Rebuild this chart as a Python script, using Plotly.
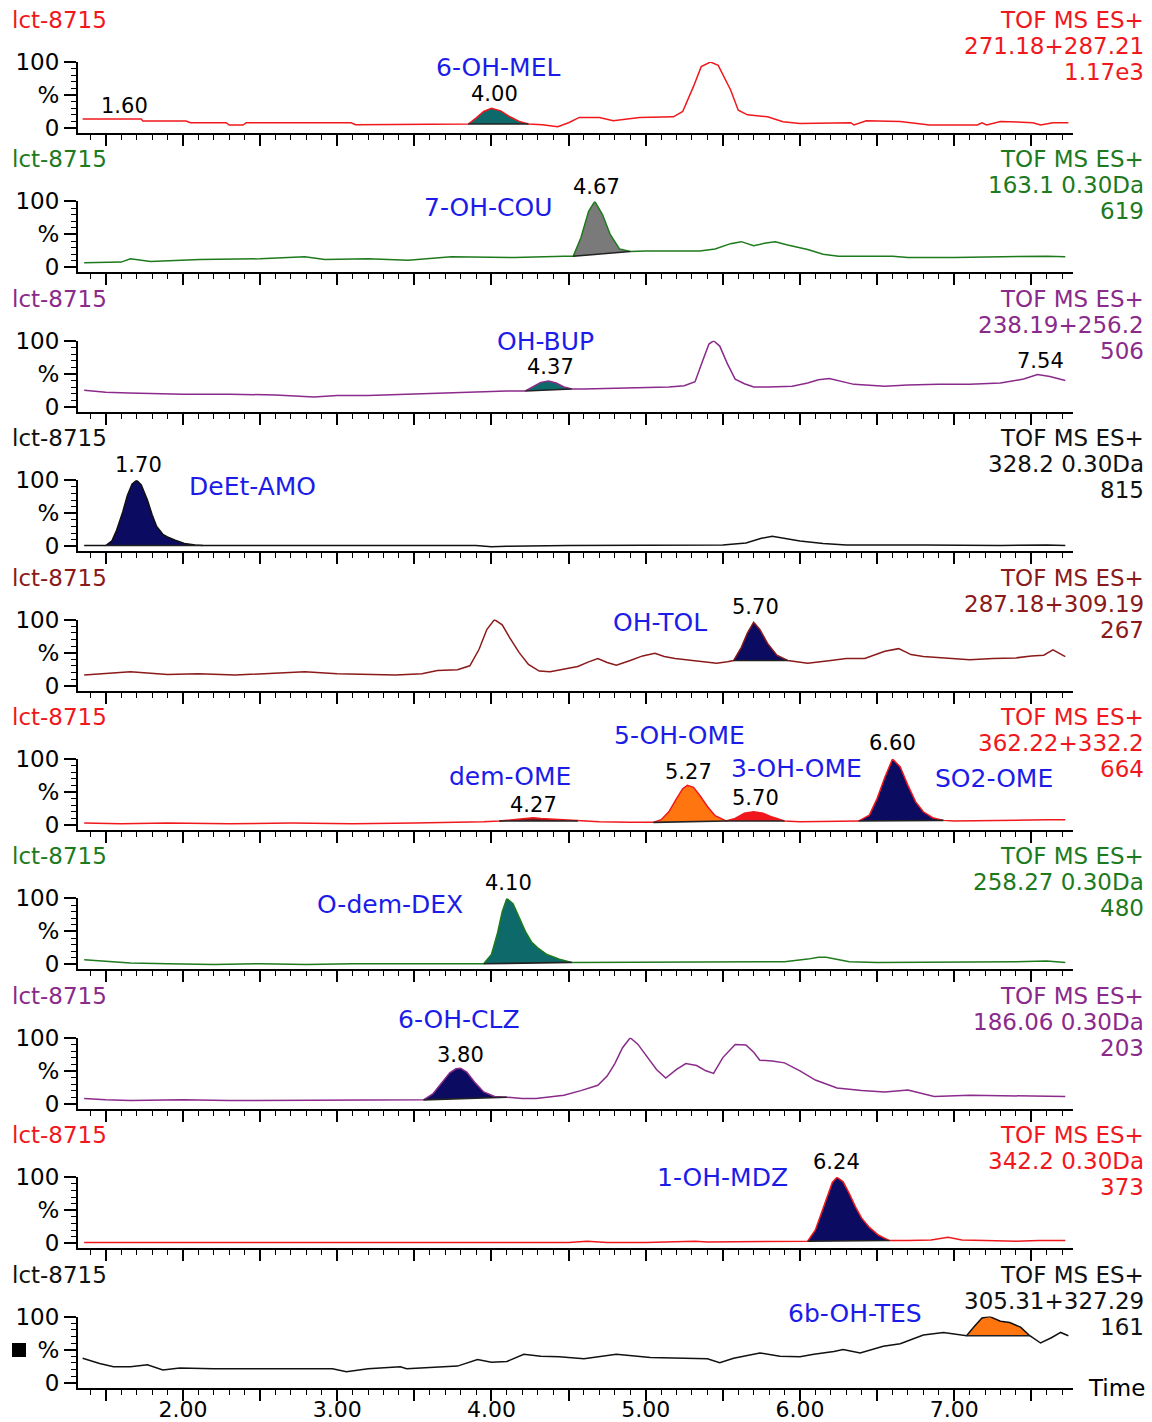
import plotly.graph_objects as go

# ---------------------------------------------------------------------------
# Extracted-ion chromatograms, sample lct-8715 (time in min, intensity in %)
# ---------------------------------------------------------------------------
sample = "lct-8715"
mode = "TOF MS ES+"

mass_windows = ["271.18+287.21", "163.1 0.30Da", "238.19+256.2", "328.2 0.30Da",
                "287.18+309.19", "362.22+332.2", "258.27 0.30Da", "186.06 0.30Da",
                "342.2 0.30Da", "305.31+327.29"]
base_peak_counts = ["1.17e3", "619", "506", "815", "267", "664", "480", "203", "373", "161"]

# 1: 6-OH-MEL
t_mel = [1.35, 1.73, 1.74, 2.02, 2.05, 2.28, 2.30, 2.39, 2.41, 3.09, 3.12, 3.50, 3.85, 3.90, 3.95,
         4.00, 4.06, 4.12, 4.18, 4.24, 4.33, 4.43, 4.50, 4.57, 4.70, 4.79, 4.96, 5.18, 5.24, 5.31,
         5.36, 5.42, 5.47, 5.55, 5.60, 5.66, 5.79, 5.89, 6.00, 6.33, 6.35, 6.43, 6.65, 6.84, 7.15,
         7.18, 7.21, 7.30, 7.51, 7.56, 7.64, 7.74]
i_mel = [13.6, 13.6, 10.6, 10.6, 8, 8, 4.5, 4.5, 8, 8, 5, 5.5, 6, 15, 25,
         30, 26, 17, 10, 6, 5, 2, 8, 16, 16, 11, 16, 17, 25, 63,
         93, 100, 95, 58, 27, 20, 17, 9.5, 7, 8, 4.5, 11, 10, 4.5, 4.5,
         8, 4.5, 10, 8, 4.5, 8, 8]

# 2: 7-OH-COU
t_cou = [1.36, 1.60, 1.66, 1.79, 2.11, 2.50, 2.79, 2.92, 3.20, 3.46, 3.74, 4.15, 4.47, 4.53, 4.58,
         4.63, 4.67, 4.72, 4.77, 4.83, 4.90, 5.00, 5.20, 5.35, 5.45, 5.55, 5.62, 5.70, 5.78, 5.84,
         5.92, 6.05, 6.15, 6.25, 6.60, 6.70, 7.00, 7.30, 7.50, 7.60, 7.72]
i_cou = [7, 8, 13, 9, 12, 13, 16, 12, 13, 11, 16, 15, 17, 17, 45,
         85, 100, 80, 50, 28, 24, 25, 25, 25, 28, 36, 39, 33, 37, 39,
         34, 27, 20, 17, 17, 15, 15, 16, 16, 17, 16]

# 3: OH-BUP
t_bup = [1.36, 1.50, 1.65, 2.00, 2.30, 2.60, 2.85, 3.00, 3.20, 3.45, 3.65, 3.90, 4.10, 4.22, 4.27,
         4.32, 4.37, 4.42, 4.47, 4.52, 4.60, 4.80, 5.00, 5.15, 5.25, 5.32, 5.37, 5.41, 5.44, 5.48,
         5.53, 5.58, 5.64, 5.70, 5.80, 5.95, 6.05, 6.12, 6.19, 6.26, 6.35, 6.55, 6.70, 6.90, 7.10,
         7.30, 7.45, 7.54, 7.62, 7.72]
i_bup = [25, 22, 21, 19, 19, 18, 15, 17, 17, 19, 20, 22, 24, 24, 30,
         37, 39, 36, 30, 27, 27, 28, 30, 30, 32, 38, 70, 95, 100, 92,
         65, 42, 35, 30, 30, 31, 36, 41, 43, 39, 34, 31, 33, 34, 34,
         36, 42, 49, 46, 40]

# 4: DeEt-AMO
t_amo = [1.36, 1.45, 1.50, 1.54, 1.57, 1.61, 1.64, 1.67, 1.70, 1.73, 1.77, 1.80, 1.83, 1.87, 1.90,
         1.95, 2.01, 2.08, 2.13, 2.50, 3.00, 3.50, 3.90, 4.00, 4.10, 4.50, 5.00, 5.50, 5.65, 5.75,
         5.82, 5.90, 6.00, 6.15, 6.30, 6.80, 7.30, 7.60, 7.72]
i_amo = [1, 1, 1, 8, 24, 52, 77, 94, 100, 93, 70, 48, 30, 18, 14,
         9, 4, 2, 1, 1, 1, 1, 1, -1, 0, 1, 1, 2, 5, 12,
         15, 12, 8, 4, 2, 2, 1, 2, 1]

# 5: OH-TOL
t_tol = [1.36, 1.66, 1.90, 2.10, 2.34, 2.60, 2.79, 3.00, 3.20, 3.38, 3.55, 3.65, 3.78, 3.86, 3.92,
         3.97, 4.02, 4.07, 4.12, 4.18, 4.24, 4.31, 4.38, 4.48, 4.56, 4.63, 4.69, 4.75, 4.81, 4.90,
         4.98, 5.06, 5.12, 5.19, 5.30, 5.40, 5.46, 5.53, 5.57, 5.62, 5.66, 5.70, 5.74, 5.79, 5.85,
         5.92, 5.96, 6.05, 6.20, 6.30, 6.42, 6.55, 6.64, 6.72, 6.80, 6.95, 7.10, 7.25, 7.40, 7.50,
         7.58, 7.64, 7.72]
i_tol = [16, 21, 17, 18, 16, 19, 21, 18, 17, 16, 18, 23, 24, 30, 55,
         85, 100, 92, 72, 50, 32, 22, 21, 25, 29, 36, 41, 35, 31, 38,
         45, 49, 44, 41, 38, 36, 34, 36, 38, 58, 80, 96, 85, 64, 46,
         38, 37, 34, 38, 41, 41, 52, 56, 47, 44, 42, 39, 41, 42, 45,
         46, 54, 44]

# 6: dem-OME / 5-OH-OME / 3-OH-OME / SO2-OME
t_ome = [1.36, 1.60, 1.90, 2.30, 2.70, 3.10, 3.50, 3.80, 3.95, 4.05, 4.15, 4.22, 4.27, 4.32, 4.40,
         4.48, 4.56, 4.70, 4.90, 5.05, 5.10, 5.15, 5.20, 5.24, 5.27, 5.31, 5.35, 5.40, 5.45, 5.52,
         5.58, 5.64, 5.70, 5.76, 5.82, 5.90, 6.00, 6.20, 6.38, 6.45, 6.50, 6.55, 6.60, 6.65, 6.70,
         6.75, 6.80, 6.86, 6.93, 7.00, 7.20, 7.40, 7.60, 7.72]
i_ome = [3, 2, 3, 2, 3, 2, 3, 4, 5, 6, 8, 10, 11, 10, 9,
         7, 6, 5, 4, 4, 8, 20, 40, 55, 60, 57, 45, 28, 14, 6,
         10, 18, 20, 18, 12, 6, 5, 5, 6, 15, 40, 72, 100, 88, 60,
         35, 20, 11, 7, 6, 7, 7, 8, 8]

# 7: O-dem-DEX
t_dex = [1.36, 1.50, 1.66, 1.90, 2.20, 2.50, 2.80, 3.10, 3.40, 3.70, 3.95, 4.00, 4.04, 4.07, 4.10,
         4.14, 4.18, 4.22, 4.26, 4.30, 4.36, 4.44, 4.52, 4.80, 5.20, 5.60, 5.90, 6.05, 6.12, 6.17,
         6.24, 6.32, 6.50, 6.80, 7.10, 7.40, 7.60, 7.72]
i_dex = [7, 5, 2, 1, 0, 1, 0, 1, 1, 1, 1, 15, 48, 80, 100,
         92, 72, 50, 34, 25, 15, 8, 3, 3, 3, 3, 4, 8, 11, 11,
         8, 4, 3, 3, 4, 4, 5, 3]

# 8: 6-OH-CLZ
t_clz = [1.36, 1.50, 1.66, 2.00, 2.30, 2.56, 2.90, 3.20, 3.47, 3.56, 3.62, 3.68, 3.73, 3.77, 3.80,
         3.84, 3.89, 3.95, 4.02, 4.10, 4.20, 4.29, 4.38, 4.47, 4.58, 4.69, 4.75, 4.80, 4.85, 4.90,
         4.95, 5.01, 5.07, 5.13, 5.20, 5.26, 5.33, 5.39, 5.44, 5.50, 5.58, 5.65, 5.70, 5.74, 5.82,
         5.90, 6.00, 6.10, 6.24, 6.40, 6.55, 6.70, 6.87, 7.10, 7.30, 7.50, 7.65, 7.72]
i_clz = [8, 6, 5, 6, 5, 5, 6, 5, 6, 6, 15, 33, 47, 53, 54,
         48, 33, 18, 11, 10, 8, 8, 10, 13, 20, 28, 42, 61, 85, 100,
         90, 71, 52, 39, 52, 61, 58, 50, 46, 70, 90, 89, 78, 66, 65,
         62, 50, 36, 24, 20, 18, 21, 11, 13, 12, 12, 11, 11]

# 9: 1-OH-MDZ
t_mdz = [1.36, 2.00, 2.50, 3.00, 3.50, 4.00, 4.50, 4.62, 4.75, 5.00, 5.25, 5.32, 5.40, 5.70, 5.90,
         6.00, 6.05, 6.10, 6.14, 6.18, 6.21, 6.24, 6.28, 6.32, 6.36, 6.40, 6.45, 6.51, 6.58, 6.70,
         6.85, 6.96, 7.05, 7.20, 7.40, 7.55, 7.72]
i_mdz = [1, 1, 1, 1, 1, 1, 1, 3, 1, 1, 2, 3, 2, 2, 2,
         3, 3, 20, 45, 72, 92, 100, 93, 75, 55, 38, 24, 12, 4, 4,
         5, 9, 5, 4, 3, 4, 4]

# 10: 6b-OH-TES
t_tes = [1.35, 1.46, 1.55, 1.66, 1.77, 1.87, 1.98, 2.20, 2.50, 2.80, 2.97, 3.06, 3.20, 3.41, 3.45,
         3.60, 3.78, 3.91, 4.00, 4.10, 4.21, 4.32, 4.44, 4.60, 4.81, 5.03, 5.24, 5.40, 5.48, 5.57,
         5.74, 5.87, 6.00, 6.09, 6.22, 6.28, 6.39, 6.54, 6.65, 6.80, 6.93, 7.02, 7.08, 7.13, 7.18,
         7.23, 7.30, 7.36, 7.43, 7.49, 7.56, 7.63, 7.69, 7.74]
i_tes = [37, 29, 24, 24, 27, 19, 22, 21, 21, 21, 21, 16.5, 21, 24, 21,
         23, 25, 35, 31, 32, 43, 40, 39, 36, 43, 38, 37, 36, 30, 37,
         45, 40, 39, 43, 47, 50, 45, 55, 59, 72, 76, 73, 71, 85, 98,
         100, 93, 91, 84, 71, 60, 68, 76, 71]

# integrated peaks: (start, end) of the integration window per trace
windows_mel = [(3.85, 4.24)]
windows_cou = [(4.53, 4.90)]
windows_bup = [(4.22, 4.52)]
windows_amo = [(1.50, 2.13)]
windows_tol = [(5.57, 5.92)]
windows_ome = [(4.05, 4.56), (5.05, 5.52), (5.52, 5.90), (6.38, 6.93)]
windows_dex = [(3.95, 4.52)]
windows_clz = [(3.56, 4.10)]
windows_mdz = [(6.05, 6.58)]
windows_tes = [(7.08, 7.49)]

# retention times printed above peaks
rt_labels = [[1.60, 4.00], [4.67], [4.37, 7.54], [1.70], [5.70],
             [4.27, 5.27, 5.70, 6.60], [4.10], [3.80], [6.24], []]

# analyte names
compounds = [["6-OH-MEL"], ["7-OH-COU"], ["OH-BUP"], ["DeEt-AMO"], ["OH-TOL"],
             ["5-OH-OME", "dem-OME", "3-OH-OME", "SO2-OME"], ["O-dem-DEX"], ["6-OH-CLZ"],
             ["1-OH-MDZ"], ["6b-OH-TES"]]

times = [t_mel, t_cou, t_bup, t_amo, t_tol, t_ome, t_dex, t_clz, t_mdz, t_tes]
intens = [i_mel, i_cou, i_bup, i_amo, i_tol, i_ome, i_dex, i_clz, i_mdz, i_tes]
windows = [windows_mel, windows_cou, windows_bup, windows_amo, windows_tol, windows_ome,
           windows_dex, windows_clz, windows_mdz, windows_tes]

# ---------------------------------------------------------------------------
# styling
# ---------------------------------------------------------------------------
FONT = "DejaVu Sans"
RED = "#f0181c"
GREEN = "#1d7a1d"
PURPLE = "#8a2a8a"
BROWN = "#8b1a1a"
BLACK = "#111111"
BLUE = "#1c1ce8"
TEAL = "#0e6a6a"
GRAY = "#7a7a7a"
NAVY = "#0b0b62"
ORANGE = "#ff7510"
DARKRED = "#7a1a1a"

trace_colors = [RED, GREEN, PURPLE, BLACK, BROWN, RED, GREEN, PURPLE, RED, BLACK]
fill_colors = [[TEAL], [GRAY], [TEAL], [NAVY], [NAVY],
               [DARKRED, ORANGE, RED, NAVY], [TEAL], [NAVY], [NAVY], [ORANGE]]

# label placement (x in minutes, y in % of each panel's intensity scale)
rt_label_pos = [[(1.62, 33), (4.02, 52)], [(4.68, 122)], [(4.38, 61), (7.56, 69)], [(1.71, 123)],
                [(5.71, 119)], [(4.27, 30), (5.28, 80), (5.71, 41), (6.60, 124)], [(4.11, 123)],
                [(3.80, 74)], [(6.24, 123)], []]
name_pos = [[(4.04, 91)], [(3.98, 91)], [(4.35, 99)], [(2.45, 91)], [(5.09, 96)],
            [(5.22, 136), (4.12, 74), (5.98, 85), (7.26, 70)], [(3.34, 91)], [(3.79, 127)],
            [(5.50, 99)], [(6.36, 105)]]

W, H = 1152, 1422
ML, MR, MT, MB = 78, 79, 40, 34
PITCH = 139.4          # vertical distance between panels, px
TOP100 = 62            # pixel row of the 100 % line in the first panel
PX_PER_PCT = 0.66
AREA_H = H - MT - MB
AREA_W = W - ML - MR
Y_MIN, Y_MAX = -7.5, 100
X_RANGE = [1.32, 7.77]


def paper_y_px(px):
    return (H - MB - px) / AREA_H


def paper_y(k, val):
    return paper_y_px(TOP100 + PITCH * k + (100 - val) * PX_PER_PCT)


def paper_x_px(px):
    return (px - ML) / AREA_W


def domain(k):
    return [max(0.0, paper_y(k, Y_MIN)), paper_y(k, Y_MAX)]


major_x = [1.5 + 0.5 * j for j in range(13)]
major_x_text = [f"{v:.2f}" if abs(v - round(v)) < 1e-9 else "" for v in major_x]
minor_x = [round(1.4 + 0.1 * j, 2) for j in range(64) if round(1.4 + 0.1 * j, 2) not in major_x]

fig = go.Figure()
annotations = []
shapes = []

for k in range(10):
    xr = "x" if k == 0 else f"x{k + 1}"
    yr = "y" if k == 0 else f"y{k + 1}"
    t, y = times[k], intens[k]
    col = trace_colors[k]

    # filled integration areas under the integrated peaks
    for (t0, t1), fc in zip(windows[k], fill_colors[k]):
        seg_t = [a for a in t if t0 - 1e-9 <= a <= t1 + 1e-9]
        seg_y = [b for a, b in zip(t, y) if t0 - 1e-9 <= a <= t1 + 1e-9]
        fig.add_trace(go.Scatter(x=seg_t + [seg_t[0]], y=seg_y + [seg_y[0]], mode="lines",
                                 fill="toself", fillcolor=fc, line=dict(width=0, color=fc),
                                 xaxis=xr, yaxis=yr, hoverinfo="skip", showlegend=False))

    fig.add_trace(go.Scatter(x=t, y=y, mode="lines", line=dict(color=col, width=1.5),
                             xaxis=xr, yaxis=yr, showlegend=False))

    # integration baselines
    for (t0, t1) in windows[k]:
        y0 = y[t.index(t0)]
        y1 = y[t.index(t1)]
        fig.add_trace(go.Scatter(x=[t0, t1], y=[y0, y1], mode="lines",
                                 line=dict(color="#222222", width=1.6),
                                 xaxis=xr, yaxis=yr, hoverinfo="skip", showlegend=False))

    xa = dict(domain=[0, 1], anchor=yr, range=X_RANGE, showline=True, linecolor="black",
              linewidth=2, ticks="outside", ticklen=11, tickwidth=1.5, tickcolor="black",
              tickmode="array", tickvals=major_x, ticktext=major_x_text, automargin=False,
              showticklabels=(k == 9), showgrid=False, zeroline=False,
              ticklabelstandoff=-10,
              tickfont=dict(family=FONT, size=22, color="black"),
              minor=dict(tickmode="array", tickvals=minor_x, ticks="outside", ticklen=5,
                         tickwidth=1.2, tickcolor="black", showgrid=False))
    ya = dict(domain=domain(k), anchor=xr, range=[Y_MIN, Y_MAX], showline=True,
              linecolor="black", linewidth=2, ticks="outside", ticklen=12, tickwidth=1.5,
              tickcolor="black", tickmode="array", tickvals=[0, 50, 100], automargin=False,
              ticktext=["0", "%", "100"], showgrid=False, zeroline=False,
              tickfont=dict(family=FONT, size=23, color="black"),
              minor=dict(tickmode="array", tickvals=[10, 20, 30, 40, 60, 70, 80, 90],
                         ticks="outside", ticklen=5, tickwidth=1.2, tickcolor="black",
                         showgrid=False))
    fig.layout["xaxis" if k == 0 else f"xaxis{k + 1}"] = xa
    fig.layout["yaxis" if k == 0 else f"yaxis{k + 1}"] = ya

    # header texts
    annotations.append(dict(text=sample, xref="paper", yref="paper",
                            x=paper_x_px(10), y=paper_y_px(20 + PITCH * k),
                            xanchor="left", yanchor="middle", showarrow=False,
                            font=dict(family=FONT, size=23, color=col)))
    for line, dy in zip([mode, mass_windows[k], base_peak_counts[k]], [20, 46, 72]):
        annotations.append(dict(text=line, xref="paper", yref="paper",
                                x=paper_x_px(1146), y=paper_y_px(dy + PITCH * k),
                                xanchor="right", yanchor="middle", showarrow=False,
                                font=dict(family=FONT, size=23, color=col)))

    for rt, (lx, ly) in zip(rt_labels[k], rt_label_pos[k]):
        annotations.append(dict(text=f"{rt:.2f}", xref=xr, yref="paper", x=lx,
                                y=paper_y(k, ly), xanchor="center", yanchor="middle",
                                showarrow=False,
                                font=dict(family=FONT, size=21, color="black")))
    for name, (lx, ly) in zip(compounds[k], name_pos[k]):
        annotations.append(dict(text=name, xref=xr, yref="paper", x=lx, y=paper_y(k, ly),
                                xanchor="center", yanchor="middle", showarrow=False,
                                font=dict(family=FONT, size=25, color=BLUE)))

annotations.append(dict(text="Time", xref="paper", yref="paper", x=paper_x_px(1086),
                        y=paper_y(9, Y_MIN), xanchor="left", yanchor="middle",
                        showarrow=False, font=dict(family=FONT, size=23, color="black")))
shapes.append(dict(type="rect", xref="paper", yref="paper",
                   x0=paper_x_px(12), x1=paper_x_px(26), y0=paper_y_px(1357), y1=paper_y_px(1343),
                   fillcolor="black", line=dict(width=0)))

fig.update_layout(template="none", width=W, height=H,
                  margin=dict(l=ML, r=MR, t=MT, b=MB, autoexpand=False),
                  paper_bgcolor="white", plot_bgcolor="white", showlegend=False,
                  annotations=annotations, shapes=shapes,
                  font=dict(family=FONT, size=22, color="black"))

fig.write_html("out.html")
